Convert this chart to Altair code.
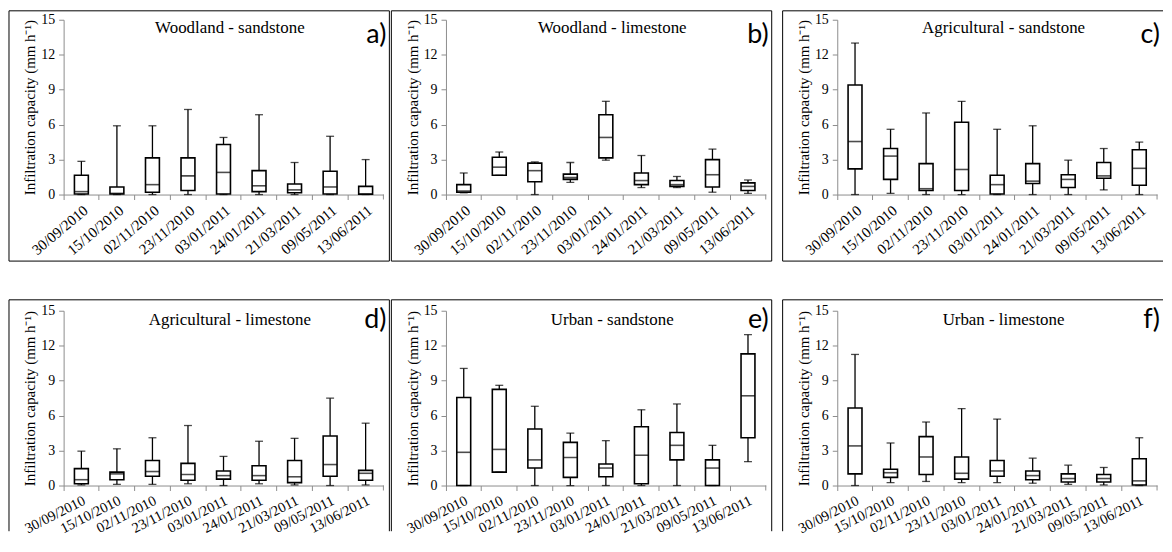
import altair as alt
import pandas as pd

DATES = ["30/09/2010", "15/10/2010", "02/11/2010", "23/11/2010", "03/01/2011",
         "24/01/2011", "21/03/2011", "09/05/2011", "13/06/2011"]
TITLES = ["Woodland - sandstone", "Woodland - limestone", "Agricultural - sandstone",
          "Agricultural - limestone", "Urban - sandstone", "Urban - limestone"]
LETTERS = ["a)", "b)", "c)", "d)", "e)", "f)"]
Y_TICKS = [0, 3, 6, 9, 12, 15]

# a) Woodland - sandstone
A_MIN = [0, 0, 0, 0, 0, 0, 0, 0, 0]
A_Q1 = [0.05, 0.05, 0.2, 0.35, 0.05, 0.25, 0.15, 0.05, 0.02]
A_MED = [0.25, 0.1, 0.85, 1.6, 1.9, 0.75, 0.4, 0.65, 0.05]
A_Q3 = [1.65, 0.65, 3.15, 3.15, 4.3, 2.05, 0.9, 2.0, 0.7]
A_MAX = [2.85, 5.9, 5.9, 7.3, 4.9, 6.85, 2.75, 5.0, 3.0]

# b) Woodland - limestone
B_MIN = [0.15, 1.65, 0, 1.05, 2.95, 0.6, 0.6, 0.2, 0.1]
B_Q1 = [0.2, 1.65, 1.1, 1.3, 3.15, 0.85, 0.7, 0.65, 0.35]
B_MED = [0.3, 2.35, 2.05, 1.45, 4.9, 1.2, 0.85, 1.7, 0.7]
B_Q3 = [0.85, 3.2, 2.7, 1.75, 6.85, 1.85, 1.2, 3.0, 1.0]
B_MAX = [1.85, 3.65, 2.8, 2.75, 8.0, 3.35, 1.55, 3.9, 1.25]

# c) Agricultural - sandstone
C_MIN = [0, 0.1, 0, 0, 0, 0, 0, 0.4, 0]
C_Q1 = [2.2, 1.3, 0.35, 0.35, 0.05, 0.95, 0.6, 1.4, 0.8]
C_MED = [4.55, 3.3, 0.5, 2.15, 0.85, 1.15, 1.3, 1.6, 2.25]
C_Q3 = [9.4, 3.95, 2.65, 6.2, 1.65, 2.65, 1.7, 2.75, 3.85]
C_MAX = [13.0, 5.6, 7.0, 8.0, 5.6, 5.9, 2.95, 3.95, 4.5]

# d) Agricultural - limestone
D_MIN = [0.05, 0.1, 0.1, 0.15, 0, 0.15, 0.05, 0, 0.05]
D_Q1 = [0.15, 0.5, 0.8, 0.45, 0.55, 0.45, 0.25, 0.8, 0.45]
D_MED = [0.5, 1.0, 1.2, 0.95, 0.85, 0.85, 0.75, 1.8, 1.05]
D_Q3 = [1.45, 1.15, 2.15, 1.9, 1.25, 1.7, 2.15, 4.25, 1.3]
D_MAX = [2.95, 3.15, 4.1, 5.15, 2.5, 3.8, 4.05, 7.5, 5.35]

# e) Urban - sandstone
E_MIN = [0, 1.15, 0, 0, 0, 0, 0, 0, 2.05]
E_Q1 = [0, 1.15, 1.5, 0.7, 0.75, 0.15, 2.2, 0, 4.1]
E_MED = [2.85, 3.1, 2.2, 2.4, 1.5, 2.6, 3.45, 1.5, 7.7]
E_Q3 = [7.55, 8.25, 4.85, 3.7, 1.85, 5.05, 4.55, 2.2, 11.3]
E_MAX = [10.05, 8.6, 6.8, 4.5, 3.85, 6.5, 7.0, 3.45, 12.95]

# f) Urban - limestone
F_MIN = [0, 0.25, 0.35, 0.25, 0.25, 0.2, 0.1, 0.05, 0]
F_Q1 = [1.0, 0.7, 0.95, 0.55, 0.8, 0.5, 0.3, 0.3, 0.05]
F_MED = [3.4, 1.1, 2.45, 1.05, 1.25, 0.85, 0.6, 0.6, 0.4]
F_Q3 = [6.65, 1.4, 4.2, 2.45, 2.15, 1.25, 1.0, 0.95, 2.3]
F_MAX = [11.25, 3.65, 5.45, 6.6, 5.7, 2.35, 1.75, 1.55, 4.1]

W, H = 322, 176
SERIF = "Liberation Serif"
GRAY = "#8c8c8c"
YTITLE = "Infiltration capacity (mm h\u207b\u00b9)"


def panel(i, mn, q1, med, q3, mx, top_row, right_col):
    df = pd.DataFrame({"date": DATES, "mn": mn, "q1": q1, "med": med, "q3": q3, "mx": mx})
    base = alt.Chart(df)
    angle = -40 if top_row else -27
    x = alt.X("date:N", sort=DATES,
              scale=alt.Scale(paddingInner=0, paddingOuter=0),
              axis=alt.Axis(title=None, labelAngle=angle, labelFont=SERIF,
                            labelFontSize=15 if top_row else 14.5,
                            labelColor="black", bandPosition=0, tickSize=5, tickColor=GRAY,
                            domainColor=GRAY, labelPadding=3))
    yaxis = alt.Axis(values=Y_TICKS, title=YTITLE, titleFont=SERIF, titleFontSize=15,
                     titleFontWeight="normal", titleColor="black", labelFont=SERIF,
                     labelFontSize=14, labelColor="black", tickSize=5, tickColor=GRAY,
                     domainColor=GRAY, grid=False, titlePadding=3, labelPadding=4)
    ysc = alt.Scale(domain=[0, 15], nice=False)

    def Y(f):
        return alt.Y(f, type="quantitative", scale=ysc, axis=yaxis)

    lo_w = base.mark_rule(color="black", strokeWidth=1.3).encode(x=x, y=Y("mn"), y2="q1")
    hi_w = base.mark_rule(color="black", strokeWidth=1.3).encode(x=x, y=Y("q3"), y2="mx")
    box = base.mark_bar(size=14, fill="white", stroke="black", strokeWidth=1.6).encode(
        x=x, y=Y("q1"), y2="q3")
    medl = base.mark_tick(size=14, thickness=1.6, color="black").encode(x=x, y=Y("med"))
    capt = base.mark_tick(size=8, thickness=1.3, color="black").encode(x=x, y=Y("mx"))
    capb = base.mark_tick(size=8, thickness=1.3, color="black").encode(x=x, y=Y("mn"))

    one = alt.Chart(pd.DataFrame({"t": [TITLES[i]], "l": [LETTERS[i]]}))
    title = one.mark_text(font=SERIF, fontSize=17, color="black", align="center",
                          baseline="middle").encode(
        x=alt.value(W * 0.52), y=alt.value(8 if top_row else 9), text="t:N")
    letter = one.mark_text(font="Lato", fontSize=27, color="black", align="right",
                           baseline="middle").encode(
        x=alt.value(W + 3), y=alt.value(15 if top_row else 9), text="l:N")
    endtick = one.mark_rule(color=GRAY, strokeWidth=1).encode(
        x=alt.value(W), y=alt.value(H), y2=alt.value(H + 5))

    left, right = -55, W + 6
    top = -9 if top_row else -11
    bottom = H + 67 if top_row else H + 46
    frame = [
        one.mark_rule(color="black", strokeWidth=1).encode(
            x=alt.value(left), x2=alt.value(right), y=alt.value(top)),
        one.mark_rule(color="black", strokeWidth=1).encode(
            x=alt.value(left), y=alt.value(top), y2=alt.value(bottom)),
    ]
    if top_row:
        frame.append(one.mark_rule(color="black", strokeWidth=1).encode(
            x=alt.value(left), x2=alt.value(right), y=alt.value(bottom)))
    if not right_col:
        frame.append(one.mark_rule(color="black", strokeWidth=1).encode(
            x=alt.value(right), y=alt.value(top), y2=alt.value(bottom)))

    return alt.layer(*frame, lo_w, hi_w, box, medl, capt, capb, endtick, title, letter).properties(
        width=W, height=H)


pa = panel(0, A_MIN, A_Q1, A_MED, A_Q3, A_MAX, True, False)
pb = panel(1, B_MIN, B_Q1, B_MED, B_Q3, B_MAX, True, False)
pc = panel(2, C_MIN, C_Q1, C_MED, C_Q3, C_MAX, True, True)
pd_ = panel(3, D_MIN, D_Q1, D_MED, D_Q3, D_MAX, False, False)
pe = panel(4, E_MIN, E_Q1, E_MED, E_Q3, E_MAX, False, False)
pf = panel(5, F_MIN, F_Q1, F_MED, F_Q3, F_MAX, False, True)

row1 = alt.hconcat(alt.hconcat(pa, pb, spacing=0), pc, spacing=9)
row2 = alt.hconcat(alt.hconcat(pd_, pe, spacing=0), pf, spacing=9)

chart = alt.vconcat(row1, row2, spacing=37).properties(padding=0).configure_view(stroke=None)

chart.save("out.html", embed_options={"renderer": "svg", "actions": False})
